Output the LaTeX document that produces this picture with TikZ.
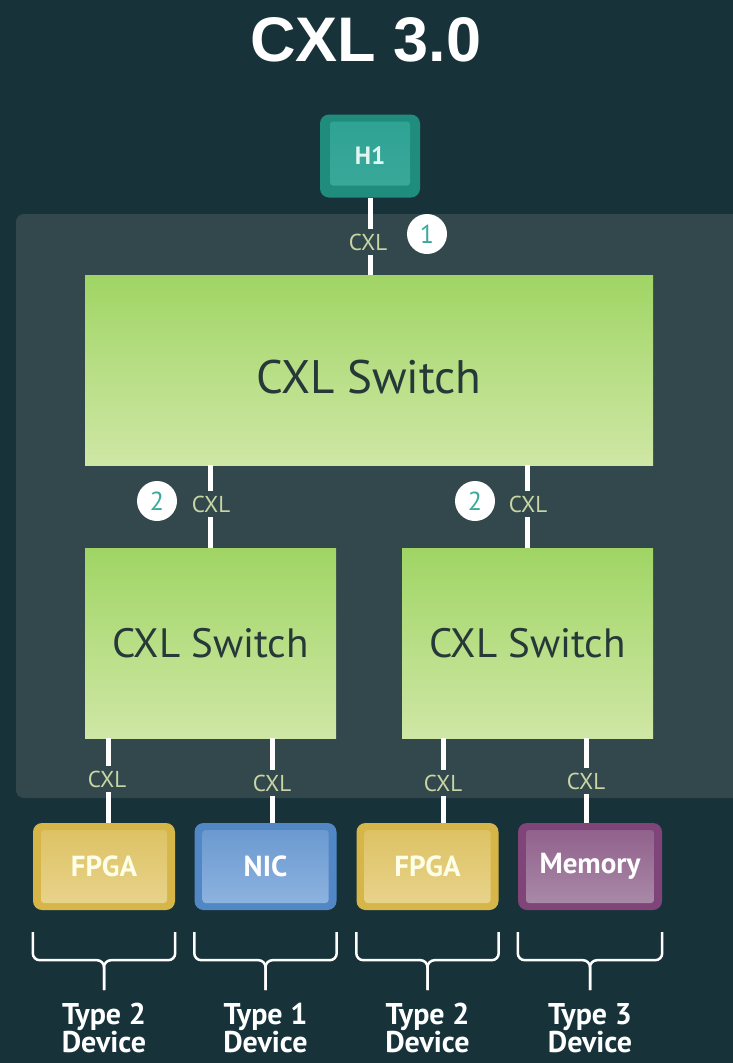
\documentclass[tikz,border=0pt]{standalone}
\usepackage{fontspec}
\setmainfont{PT Sans}
\newfontfamily\titlefont{Liberation Sans}
\definecolor{bg}{HTML}{18323A}
\definecolor{panel}{HTML}{32484C}
\definecolor{swtop}{HTML}{A0D565}
\definecolor{swbot}{HTML}{CFE7A5}
\definecolor{swtext}{HTML}{273838}
\definecolor{cxltext}{HTML}{C9D6A4}
\definecolor{teal}{HTML}{3BA99B}
\definecolor{hostout}{HTML}{1F8C7D}
\definecolor{hostin}{HTML}{2EA293}
\definecolor{fpgaout}{HTML}{D6B649}
\definecolor{fpgain}{HTML}{E8D48E}
\definecolor{nicout}{HTML}{5287C6}
\definecolor{nicin}{HTML}{90B5E0}
\definecolor{memout}{HTML}{804578}
\definecolor{memin}{HTML}{AB8CAA}
\tikzset{
  switchbox/.style={draw=none, top color=swtop, bottom color=swbot, text=swtext, inner sep=0pt},
  link/.style={draw=white, line width=5pt},
  cxl/.style={fill=panel, text=cxltext, font=\fontsize{23}{23}\selectfont, inner xsep=1pt, inner ysep=5pt},
  badge/.style={circle, fill=white, text=teal, minimum size=40pt, inner sep=0pt, font=\fontsize{26}{26}\selectfont},
  devbox/.style n args={3}{rounded corners=9pt, fill=#1, minimum width=142pt, minimum height=87pt, inner sep=0pt, text=#3,
    font=\bfseries\fontsize{29}{29}\selectfont,
    path picture={\shade[top color=#2!35!#1, bottom color=#2, rounded corners=3pt]
      ([xshift=8pt,yshift=-7pt]path picture bounding box.north west) rectangle
      ([xshift=-8pt,yshift=7pt]path picture bounding box.south east);}},
  brace/.style={draw=white, line width=2.5pt, rounded corners=7pt},
  typelbl/.style={text=white, align=center, font=\bfseries\fontsize{30}{26}\selectfont, inner sep=0pt},
}
\newcommand{\devbrace}[1]{%
  \draw[brace] ([yshift=-22pt]#1.south west) -- ([yshift=-50pt]#1.south west) -- ([yshift=-50pt]#1.south) -- ([yshift=-80pt]#1.south);
  \draw[brace] ([yshift=-22pt]#1.south east) -- ([yshift=-50pt]#1.south east) -- ([yshift=-50pt]#1.south) -- ([yshift=-80pt]#1.south);}
\begin{document}
\begin{tikzpicture}[x=1pt,y=-1pt]
\fill[bg] (0,0) rectangle (733,1063);
\useasboundingbox (0,0) rectangle (733,1063);
\fill[panel, rounded corners=8pt] (16,214) rectangle (760,798);

\node[text=white, font=\titlefont\bfseries\fontsize{63}{63}\selectfont, inner sep=0pt] (title) at (366,40) {CXL 3.0};

% host
\node[rounded corners=9pt, fill=hostout, minimum width=100pt, minimum height=83pt, inner sep=0pt,
  text={rgb,255:red,225;green,246;blue,240}, font=\bfseries\fontsize{25}{25}\selectfont,
  path picture={\shade[top color=hostin, bottom color=teal, rounded corners=3pt]
      ([xshift=10pt,yshift=-7pt]path picture bounding box.north west) rectangle
      ([xshift=-10pt,yshift=12pt]path picture bounding box.south east);}] (h1) at (370,156) {H1};

% switches
\node[switchbox, minimum width=568pt, minimum height=190pt] (sw0) at (369,370) {};
\node[text=swtext, font=\fontsize{47}{47}\selectfont, inner sep=0pt] (sw0txt) at ([yshift=-7pt]sw0.center) {CXL Switch};
\node[switchbox, minimum width=251pt, minimum height=190pt, font=\fontsize{41}{41}\selectfont] (sw1) at (210.5,643) {CXL Switch};
\node[switchbox, minimum width=251pt, minimum height=190pt, font=\fontsize{41}{41}\selectfont] (sw2) at (527.5,643) {CXL Switch};

% devices
\node[devbox={fpgaout}{fpgain}{white!90!yellow}] (fpga1) at (104,866.5) {FPGA};
\node[devbox={nicout}{nicin}{white}] (nic) at (265.5,866.5) {NIC};
\node[devbox={fpgaout}{fpgain}{white!90!yellow}] (fpga2) at (427.5,866.5) {FPGA};
\node[devbox={memout}{memin}{white}, minimum width=144pt] (mem) at (590,866.5) {Memory};

% links
\draw[link] (h1.south) -- (sw0.north -| h1.south);
\node[cxl] (l0) at (368,242) {CXL};
\node[badge] (b1) at (427,234) {1};

\draw[link] (sw1.north) -- (sw1.north |- sw0.south);
\node[cxl] (l1) at (211,504) {CXL};
\node[badge] (b2) at (157,501) {2};
\draw[link] (sw2.north) -- (sw2.north |- sw0.south);
\node[cxl] (l2) at (528,504) {CXL};
\node[badge] (b3) at (475,501) {2};

\draw[link] ([xshift=4pt]fpga1.north) -- ([xshift=4pt]fpga1.north |- sw1.south);
\node[cxl] (l3) at (107,779) {CXL};
\draw[link] ([xshift=7pt]nic.north) -- ([xshift=7pt]nic.north |- sw1.south);
\node[cxl] (l4) at (272,783) {CXL};
\draw[link] ([xshift=16pt]fpga2.north) -- ([xshift=16pt]fpga2.north |- sw2.south);
\node[cxl] (l5) at (443,783) {CXL};
\draw[link] ([xshift=-4pt]mem.north) -- ([xshift=-4pt]mem.north |- sw2.south);
\node[cxl] (l6) at (586,781) {CXL};

% braces and labels
\devbrace{fpga1}
\devbrace{nic}
\devbrace{fpga2}
\devbrace{mem}
\node[typelbl] (t1) at ([yshift=-118pt]fpga1.south) {Type 2\\Device};
\node[typelbl] (t2) at ([yshift=-118pt]nic.south) {Type 1\\Device};
\node[typelbl] (t3) at ([yshift=-118pt]fpga2.south) {Type 2\\Device};
\node[typelbl] (t4) at ([yshift=-118pt]mem.south) {Type 3\\Device};
\end{tikzpicture}
\end{document}
